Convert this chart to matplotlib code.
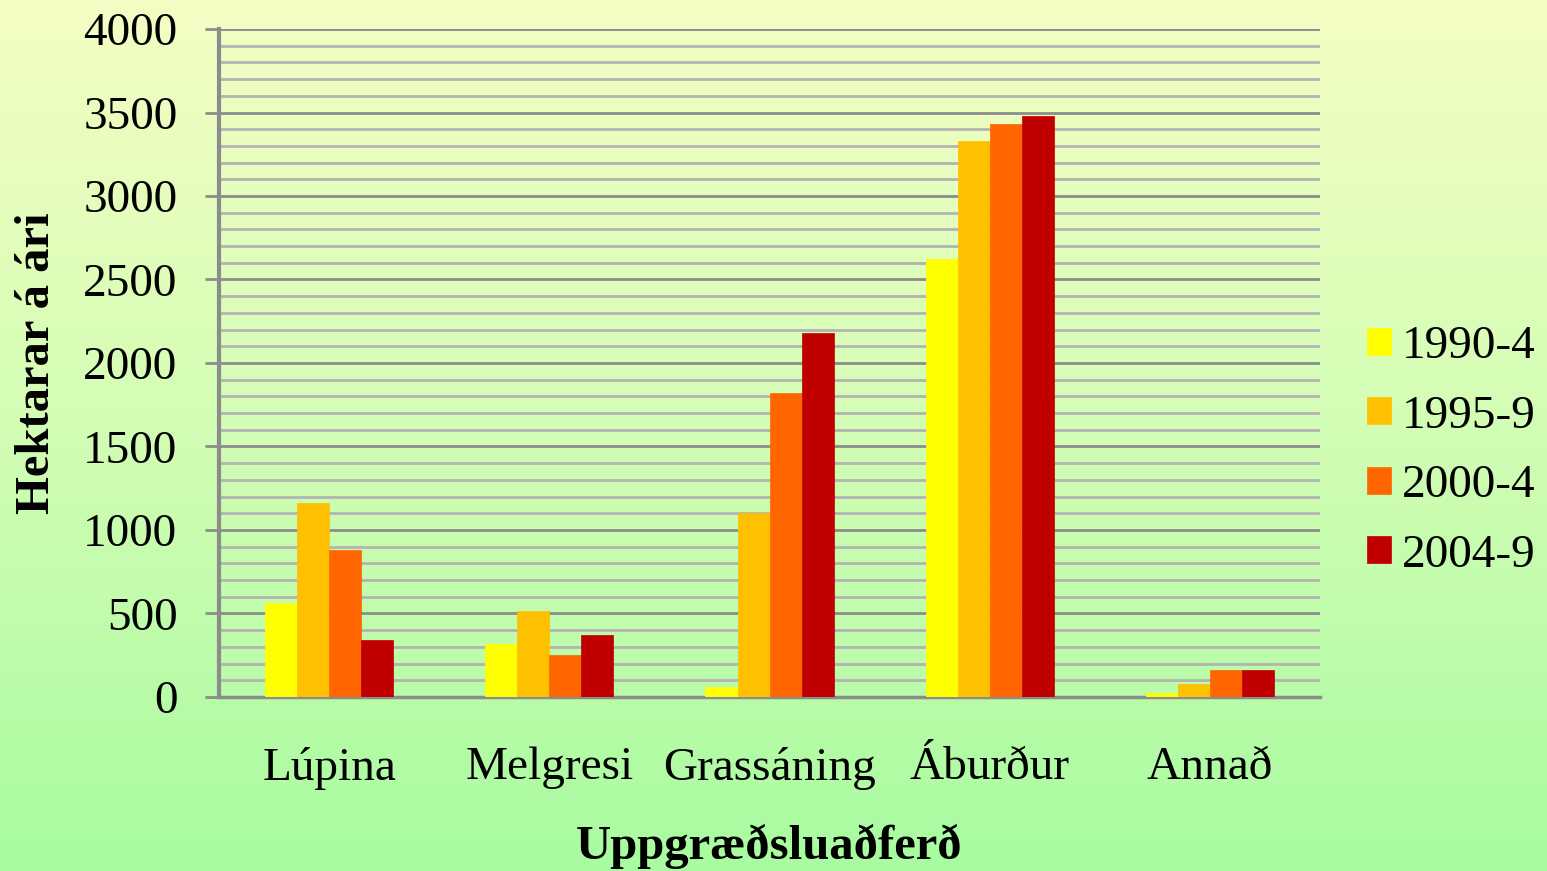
import numpy as np
import matplotlib
matplotlib.use("Agg")
import matplotlib.pyplot as plt
from matplotlib.colors import LinearSegmentedColormap

categories = ["Lúpina", "Melgresi", "Grassáning", "Áburður", "Annað"]
series_names = ["1990-4", "1995-9", "2000-4", "2004-9"]
s1990 = [560, 320, 60, 2620, 22]
s1995 = [1160, 515, 1100, 3330, 80]
s2000 = [880, 250, 1820, 3430, 162]
s2004 = [340, 370, 2180, 3480, 162]
colors = ["#ffff00", "#ffc000", "#ff6600", "#c00000"]
yticks = [0, 500, 1000, 1500, 2000, 2500, 3000, 3500, 4000]

plt.rcParams['font.family'] = ['Liberation Serif', 'DejaVu Serif']

fig = plt.figure(figsize=(15.47, 8.71), dpi=100)

# background gradient
bg = fig.add_axes([0, 0, 1, 1], zorder=-10)
cmap = LinearSegmentedColormap.from_list("g", ["#a8fba0", "#d2fdb4", "#f4fdc4"])
grad = np.linspace(0, 1, 256).reshape(-1, 1)
bg.imshow(grad, aspect='auto', cmap=cmap, origin='lower', extent=[0, 1, 0, 1])
bg.set_axis_off()

ax = fig.add_axes([0.1416, 0.1998, 0.7117, 0.7669])
ax.set_facecolor('none')

all_series = [s1990, s1995, s2000, s2004]
x = np.arange(len(categories))
w = 0.1455
for i, (vals, c, name) in enumerate(zip(all_series, colors, series_names)):
    ax.bar(x + (i - 1.5) * w, vals, width=w, color=c, label=name, zorder=3,
           edgecolor=c, linewidth=0.5)

ax.set_xlim(-0.5, 4.5)
ax.set_ylim(0, 4000)
ax.set_yticks(yticks)
ax.set_yticks(np.arange(0, 4001, 100), minor=True)
ax.grid(axis='y', which='minor', color='#b4b4b4', linewidth=2, zorder=1)
ax.grid(axis='y', which='major', color='#8c8c8c', linewidth=2, zorder=1)
ax.tick_params(axis='y', which='major', length=10, width=2, color='#8c8c8c',
               pad=20, labelsize=34)
ax.tick_params(axis='y', which='minor', length=0)
ax.set_xticks(x)
ax.set_xticklabels(categories)
ax.tick_params(axis='x', length=0, pad=36, labelsize=34)

for s in ['top', 'right']:
    ax.spines[s].set_visible(False)
ax.spines['left'].set_color('#8c8c8c')
ax.spines['left'].set_linewidth(3)
ax.spines['bottom'].set_color('#8c8c8c')
ax.spines['bottom'].set_linewidth(2.5)

ax.set_ylabel("Hektarar á ári", fontsize=35, fontweight='bold')
ax.yaxis.set_label_coords(-0.145, 0.5)
ax.set_xlabel("Uppgræðsluaðferð", fontsize=35, fontweight='bold')
ax.xaxis.set_label_coords(0.5, -0.19)

leg = fig.legend(loc='center left', bbox_to_anchor=(0.8836, 0.482), frameon=False,
                 fontsize=34, handlelength=0.5, handleheight=0.5,
                 handletextpad=0.25, labelspacing=0.57, borderaxespad=0,
                 borderpad=0)

fig.savefig("out.png", dpi=100)
